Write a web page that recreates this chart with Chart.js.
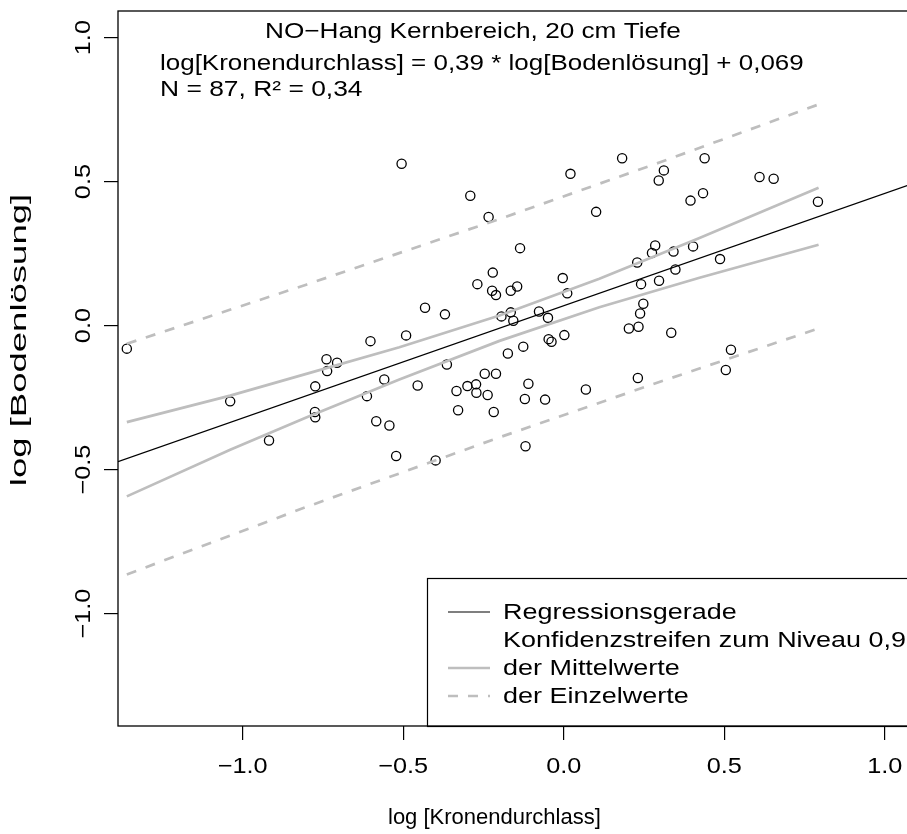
<!DOCTYPE html>
<html>
<head>
<meta charset="utf-8">
<script src="https://cdn.jsdelivr.net/npm/chart.js@4.4.1/dist/chart.umd.min.js"></script>
<style>
html, body { margin: 0; padding: 0; background: #fff; overflow: hidden; }
canvas { display: block; }
</style>
</head>
<body>
<canvas id="regChart" width="940" height="834"></canvas>
<script>
// values
const kronenX = [-0.505, -1.361, -0.602, -0.491, -0.739, -0.706, -0.737, -0.774, -0.559, -1.039,
  -0.613, -0.775, -0.774, -0.584, -0.543, -0.918, -0.522, -0.399, -0.432, -0.370,
  -0.364, -0.455, -0.334, -0.300, -0.273, -0.272, -0.246, -0.211, -0.237, -0.329,
  -0.218, -0.194, 0.182, 0.021, 0.312, 0.296, 0.395, -0.291, -0.234, 0.101,
  -0.136, 0.285, 0.275, 0.342, 0.403, 0.229, 0.348, 0.241, 0.297, -0.221,
  -0.269, -0.223, -0.211, -0.165, -0.145, -0.003, 0.011, 0.248, 0.238, -0.165,
  -0.157, -0.077, -0.049, 0.203, 0.233, 0.335, -0.047, -0.038, 0.002, -0.126,
  -0.174, -0.110, 0.069, -0.121, -0.058, 0.231, 0.439, 0.610, 0.654, 0.434,
  0.792, 0.487, 0.521, 0.505, -0.119];
const bodenY = [0.562, -0.080, -0.054, -0.034, -0.117, -0.129, -0.158, -0.211, -0.187, -0.263,
  -0.245, -0.300, -0.318, -0.332, -0.347, -0.399, -0.453, -0.468, 0.062, 0.039,
  -0.135, -0.208, -0.227, -0.210, -0.204, -0.233, -0.167, -0.167, -0.241, -0.294,
  -0.300, 0.032, 0.581, 0.527, 0.539, 0.504, 0.434, 0.451, 0.377, 0.395,
  0.269, 0.278, 0.252, 0.257, 0.275, 0.219, 0.195, 0.144, 0.156, 0.184,
  0.144, 0.121, 0.106, 0.121, 0.136, 0.165, 0.112, 0.076, 0.042, 0.046,
  0.017, 0.049, 0.027, -0.010, -0.004, -0.025, -0.047, -0.056, -0.033, -0.073,
  -0.097, -0.202, -0.222, -0.255, -0.257, -0.182, 0.581, 0.516, 0.510, 0.460,
  0.430, 0.231, -0.084, -0.154, -0.419];

// regression line, ends at the plot edges
const regX = [-1.3885, 1.1255];
const regY = [-0.4725, 0.508];

// confidence band of the mean (grey solid)
const bandX = [-1.361, -1.039, -0.791, -0.512, -0.2, 0.111, 0.423, 0.794];
const meanUpper = [-0.335, -0.243, -0.164, -0.075, 0.035, 0.163, 0.304, 0.479];
const meanLower = [-0.593, -0.431, -0.314, -0.187, -0.053, 0.064, 0.166, 0.281];

// band for single values (grey dashed)
const predX = [-1.361, -0.8, -0.2, 0.3, 0.794];
const predUpper = [-0.063, 0.143, 0.370, 0.567, 0.768];
const predLower = [-0.864, -0.629, -0.388, -0.195, -0.010];

const xTicks = [-1, -0.5, 0, 0.5, 1];
const yTicks = [-1, -0.5, 0, 0.5, 1];
const xTickLabels = ['\u22121.0', '\u22120.5', '0.0', '0.5', '1.0'];
const yTickLabels = ['\u22121.0', '\u22120.5', '0.0', '0.5', '1.0'];

const legendLabels = ['Regressionsgerade', 'Konfidenzstreifen zum Niveau 0,9', 'der Mittelwerte', 'der Einzelwerte'];

const FONT = '"Liberation Sans", Arial, Helvetica, sans-serif';
const GRAY = '#BEBEBE';

function toXY(xs, ys) {
  return xs.map((x, i) => ({ x: x, y: ys[i] }));
}

function lineSet(label, xs, ys, color, width, dash, order) {
  return {
    type: 'line',
    label: label,
    data: toXY(xs, ys),
    borderColor: color,
    borderWidth: width,
    borderDash: dash,
    pointRadius: 0,
    fill: false,
    tension: 0,
    order: order
  };
}

// text in the reference is a bit wider than the font, so stretch it
function wideText(ctx, str, x, y, sx, rot) {
  ctx.save();
  ctx.translate(x, y);
  if (rot) ctx.rotate(rot);
  ctx.scale(sx, 1);
  ctx.fillText(str, 0, 0);
  ctx.restore();
}

// legend, box, texts and rotated y labels like the R plot
const rDecor = {
  id: 'rDecor',
  afterDatasetsDraw(chart) {
    const ctx = chart.ctx;
    const a = chart.chartArea;
    const xs = chart.scales.x;
    const ys = chart.scales.y;

    ctx.save();
    // legend box
    ctx.fillStyle = '#fff';
    ctx.fillRect(427.5, 578.5, 600, 148);
    ctx.strokeStyle = '#000';
    ctx.lineWidth = 1.2;
    ctx.strokeRect(427.5, 578.5, 600, 148);

    const rowY = [612, 640, 668, 696];
    const styles = [
      { c: '#000', w: 1.2, d: [] },
      null,
      { c: GRAY, w: 2.7, d: [] },
      { c: GRAY, w: 2.7, d: [10, 10] }
    ];
    ctx.font = '22px ' + FONT;
    ctx.textBaseline = 'middle';
    ctx.textAlign = 'left';
    legendLabels.forEach((lab, i) => {
      const s = styles[i];
      if (s) {
        ctx.beginPath();
        ctx.strokeStyle = s.c;
        ctx.lineWidth = s.w;
        ctx.setLineDash(s.d);
        ctx.moveTo(448, rowY[i]);
        ctx.lineTo(490, rowY[i]);
        ctx.stroke();
        ctx.setLineDash([]);
      }
      ctx.fillStyle = '#000';
      wideText(ctx, lab, 503, rowY[i] + 1, 1.225);
    });

    // plot box
    ctx.strokeStyle = '#000';
    ctx.lineWidth = 1.3;
    ctx.strokeRect(a.left, a.top, a.right - a.left, a.bottom - a.top);

    // texts in the plot
    ctx.textBaseline = 'alphabetic';
    wideText(ctx, 'NO\u2212Hang Kernbereich, 20 cm Tiefe', 265, 38, 1.19);
    wideText(ctx, 'log[Kronendurchlass] = 0,39 * log[Bodenl\u00f6sung] + 0,069', 160, 70, 1.18);
    wideText(ctx, 'N = 87, R\u00b2 = 0,34', 160, 96, 1.2);

    // axis titles
    wideText(ctx, 'log [Kronendurchlass]', 388, 824, 1.0);
    ctx.textAlign = 'center';
    wideText(ctx, 'log [Bodenl\u00f6sung]', 26, 340, 1.66, -Math.PI / 2);

    // tick labels
    xTicks.forEach((v, i) => {
      wideText(ctx, xTickLabels[i], xs.getPixelForValue(v), 773, 1.15);
    });
    yTicks.forEach((v, i) => {
      wideText(ctx, yTickLabels[i], 90, ys.getPixelForValue(v), 1.15, -Math.PI / 2);
    });
    ctx.restore();
  }
};

const ctx = document.getElementById('regChart').getContext('2d');

const regChart = new Chart(ctx, {
  type: 'scatter',
  data: {
    datasets: [
      {
        label: 'Messwerte',
        data: toXY(kronenX, bodenY),
        pointStyle: 'circle',
        pointRadius: 4.6,
        pointBorderWidth: 1.3,
        pointBorderColor: '#000',
        pointBackgroundColor: 'rgba(0,0,0,0)',
        order: 10
      },
      lineSet('Regressionsgerade', regX, regY, '#000', 1.2, [], 1),
      lineSet('Mittelwerte oben', bandX, meanUpper, GRAY, 2.7, [], 2),
      lineSet('Mittelwerte unten', bandX, meanLower, GRAY, 2.7, [], 2),
      lineSet('Einzelwerte oben', predX, predUpper, GRAY, 2.7, [10, 10], 3),
      lineSet('Einzelwerte unten', predX, predLower, GRAY, 2.7, [10, 10], 3)
    ]
  },
  options: {
    responsive: false,
    devicePixelRatio: 1,
    animation: false,
    layout: { padding: { top: 11, right: 15, left: 0, bottom: 0 } },
    scales: {
      x: {
        type: 'linear',
        min: -1.3885,
        max: 1.1255,
        afterBuildTicks: s => { s.ticks = xTicks.map(v => ({ value: v })); },
        afterFit: s => { s.height = 108; },
        border: { display: false },
        grid: { drawOnChartArea: false, drawTicks: true, tickLength: 14, color: '#000', lineWidth: 1.2 },
        ticks: { display: false }
      },
      y: {
        type: 'linear',
        min: -1.3903,
        max: 1.0924,
        afterBuildTicks: s => { s.ticks = yTicks.map(v => ({ value: v })); },
        afterFit: s => { s.width = 118; },
        border: { display: false },
        grid: { drawOnChartArea: false, drawTicks: true, tickLength: 14, color: '#000', lineWidth: 1.2 },
        ticks: { display: false }
      }
    },
    plugins: {
      legend: { display: false },
      tooltip: { enabled: false },
      title: { display: false }
    }
  },
  plugins: [rDecor]
});
</script>
</body>
</html>
